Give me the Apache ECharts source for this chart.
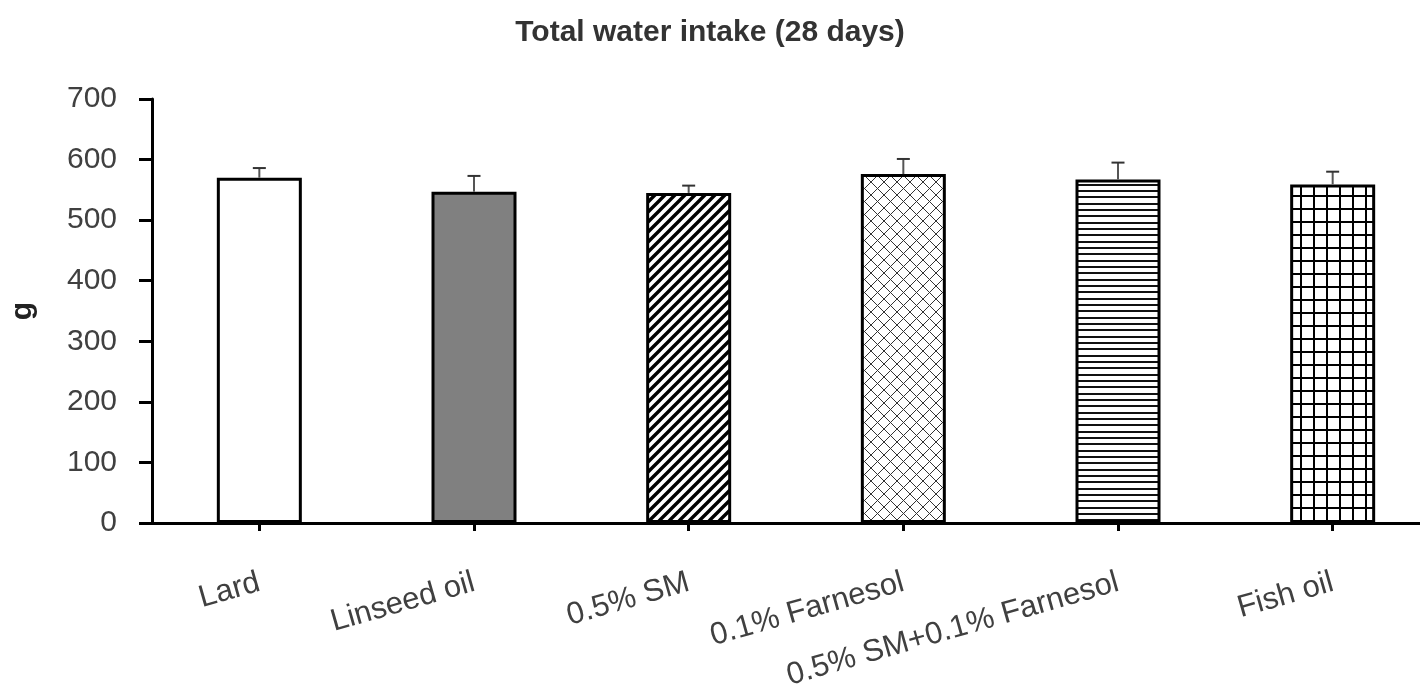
<!DOCTYPE html>
<html>
<head>
<meta charset="utf-8">
<title>Total water intake (28 days)</title>
<script src="https://cdn.jsdelivr.net/npm/echarts@6/dist/echarts.min.js"></script>
<style>
  html, body { margin: 0; padding: 0; background: #fff; }
  #chart { width: 1420px; height: 689px; }
</style>
</head>
<body>
<div id="chart"></div>
<script>
// Diet groups and their 28-day water intake (g), mean and SD
const categories = ['Lard', 'Linseed oil', '0.5% SM', '0.1% Farnesol', '0.5% SM+0.1% Farnesol', 'Fish oil'];
const waterIntake = [570, 547, 545, 576, 567, 559];
const intakeSD = [16, 26, 12, 25, 28, 21];

// Value axis range
const yMin = 0;
const yMax = 700;
const yStep = 100;

const FONT = '"Liberation Sans", Arial, sans-serif';

// Small repeating tiles used as bar fills
function makeTile(w, h, draw) {
  const c = document.createElement('canvas');
  c.width = w; c.height = h;
  const ctx = c.getContext('2d');
  ctx.fillStyle = '#ffffff';
  ctx.fillRect(0, 0, w, h);
  draw(ctx, w, h);
  return c;
}

const diagonalTile = makeTile(10, 10, (ctx, w, h) => {
  ctx.strokeStyle = '#000';
  ctx.lineWidth = 3.4;
  ctx.beginPath();
  ctx.moveTo(-1, h + 1); ctx.lineTo(w + 1, -1);
  ctx.moveTo(-2, 2); ctx.lineTo(2, -2);
  ctx.moveTo(w - 2, h + 2); ctx.lineTo(w + 2, h - 2);
  ctx.stroke();
});

const crossTile = makeTile(13, 13, (ctx, w, h) => {
  ctx.strokeStyle = '#333';
  ctx.lineWidth = 1;
  ctx.beginPath();
  ctx.moveTo(0, 0); ctx.lineTo(w, h);
  ctx.moveTo(0, h); ctx.lineTo(w, 0);
  ctx.stroke();
});

const hLineTile = makeTile(4, 19, (ctx, w) => {
  ctx.fillStyle = '#111';
  [0, 6, 13].forEach(y => ctx.fillRect(0, y, w, 2));
});

const gridTile = makeTile(13, 13, (ctx, w, h) => {
  ctx.fillStyle = '#000';
  ctx.fillRect(0, 0, 2, h);
  ctx.fillRect(0, 0, w, 2);
});

const barFills = [
  '#ffffff',
  '#808080',
  { image: diagonalTile, repeat: 'repeat' },
  { image: crossTile, repeat: 'repeat' },
  { image: hLineTile, repeat: 'repeat' },
  { image: gridTile, repeat: 'repeat' }
];

const chart = echarts.init(document.getElementById('chart'), null, { renderer: 'canvas' });

chart.setOption({
  animation: false,
  backgroundColor: '#ffffff',
  title: {
    text: 'Total water intake (28 days)',
    left: 'center',
    top: 13,
    textStyle: { fontFamily: FONT, fontSize: 30, fontWeight: 'bold', color: '#333333' }
  },
  grid: { left: 152, right: -20, top: 99, bottom: 166, outerBoundsMode: 'none' },
  xAxis: {
    type: 'category',
    data: categories,
    boundaryGap: true,
    axisLine: { show: true, lineStyle: { color: '#000', width: 3 } },
    axisTick: { show: true, alignWithLabel: true, length: 8, lineStyle: { color: '#000', width: 3 } },
    axisLabel: {
      interval: 0,
      rotate: 16,
      margin: 59,
      fontFamily: FONT,
      fontSize: 31,
      color: '#404040'
    },
    splitLine: { show: false }
  },
  yAxis: {
    type: 'value',
    min: yMin,
    max: yMax,
    interval: yStep,
    name: 'g',
    nameLocation: 'middle',
    nameGap: 114,
    nameRotate: 90,
    nameTextStyle: { fontFamily: FONT, fontSize: 30, fontWeight: 'bold', color: '#222' },
    axisLine: { show: true, lineStyle: { color: '#000', width: 3 } },
    axisTick: { show: true, inside: false, length: 13, lineStyle: { color: '#000', width: 3 } },
    axisLabel: { margin: 35, fontFamily: FONT, fontSize: 30, color: '#404040' },
    splitLine: { show: false }
  },
  series: [
    {
      name: 'Water intake',
      type: 'bar',
      barWidth: 85,
      data: waterIntake.map((v, i) => ({
        value: v,
        itemStyle: { color: barFills[i], borderColor: '#000', borderWidth: 3 }
      })),
      z: 2
    },
    {
      name: 'SD',
      type: 'custom',
      z: 3,
      data: waterIntake.map((v, i) => [i, v, v + intakeSD[i]]),
      renderItem: (params, api) => {
        const base = api.coord([api.value(0), api.value(1)]);
        const top = api.coord([api.value(0), api.value(2)]);
        const half = 6.5;
        return {
          type: 'group',
          children: [
            { type: 'line', shape: { x1: base[0], y1: base[1], x2: top[0], y2: top[1] },
              style: { stroke: '#555', lineWidth: 2 } },
            { type: 'line', shape: { x1: top[0] - half, y1: top[1], x2: top[0] + half, y2: top[1] },
              style: { stroke: '#333', lineWidth: 2 } }
          ]
        };
      }
    }
  ]
});
</script>
</body>
</html>
